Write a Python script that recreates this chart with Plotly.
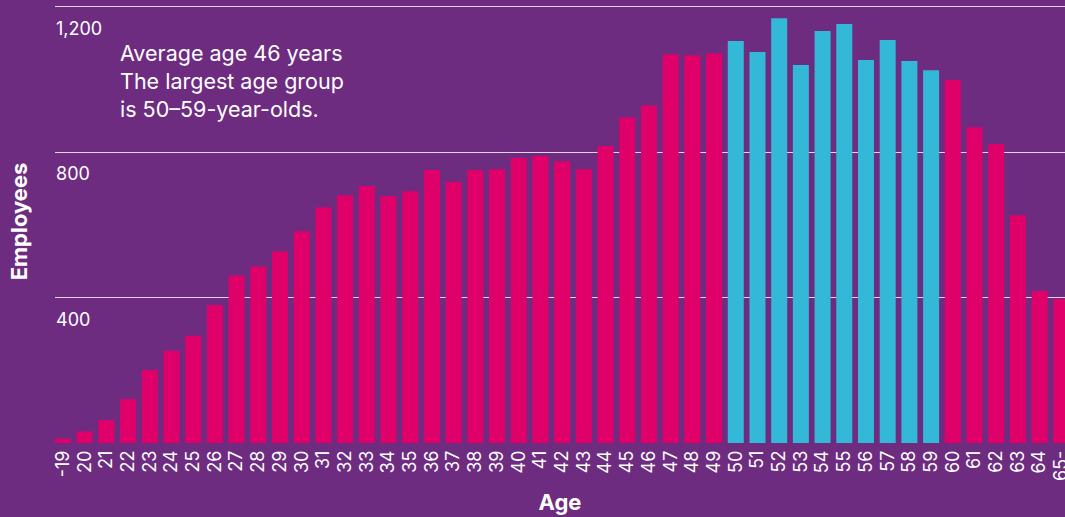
import plotly.graph_objects as go

ages = ["-19"] + [str(a) for a in range(20, 65)] + ["65-"]
employees = [12, 32, 63, 121, 201, 254, 295, 380, 461, 486, 527,
             583, 649, 682, 707, 680, 693, 751, 718, 751, 753, 784,
             790, 775, 753, 817, 896, 929, 1070, 1067, 1072,
             1106, 1076, 1169, 1040, 1134, 1153, 1054, 1109, 1051, 1026,
             999, 869, 823, 627, 418, 396]
highlight_ages = [str(a) for a in range(50, 60)]
y_tick_vals = [400, 800, 1200]
y_tick_text = ["400", "800", "1,200"]
note_lines = ["Average age 46 years", "The largest age group", "is 50–59-year-olds."]

BG = "#6e2c81"
PINK = "#e0006a"
CYAN = "#33b8d8"
FONT = "Inter"

colors = [CYAN if a in highlight_ages else PINK for a in ages]

fig = go.Figure(go.Bar(x=ages, y=employees, marker=dict(color=colors, line=dict(width=0)),
                       hoverinfo="x+y"))

fig.update_layout(
    width=1065, height=517,
    margin=dict(l=55, r=0, t=0, b=74),
    paper_bgcolor=BG, plot_bgcolor=BG,
    bargap=0.263,
    showlegend=False,
    font=dict(family=FONT, color="white"),
    xaxis=dict(
        type="category",
        range=[-0.3685, 46.17],
        tickmode="array", tickvals=ages, ticktext=ages,
        tickangle=-90,
        tickfont=dict(size=18, color="white", family=FONT),
        ticklabelstandoff=3,
        showgrid=False, zeroline=False, showline=False, ticks="",
        automargin=False,
        title=dict(text="<b>Age</b>", font=dict(size=22, color="white", family=FONT), standoff=14),
    ),
    yaxis=dict(
        range=[0, 1219],
        tickvals=y_tick_vals,
        showticklabels=False,
        showgrid=True, gridcolor="rgba(255,255,255,0.8)", gridwidth=1.2,
        zeroline=False, showline=False, ticks="",
        automargin=False,
        title=dict(text="<b>Employees</b>", font=dict(size=22, color="white", family=FONT), standoff=20),
    ),
)

for v, t in zip(y_tick_vals, y_tick_text):
    fig.add_annotation(x=0, xref="paper", y=v, yref="y", text=t, showarrow=False,
                       xanchor="left", yanchor="top", yshift=-9, xshift=-1,
                       font=dict(size=18, color="white", family=FONT))

fig.add_annotation(x=0.062, xref="paper", y=0.915, yref="paper", text="<br>".join(note_lines),
                   showarrow=False, xanchor="left", yanchor="top", align="left",
                   font=dict(size=21.5, color="white", family=FONT))

fig.write_html("out.html")
